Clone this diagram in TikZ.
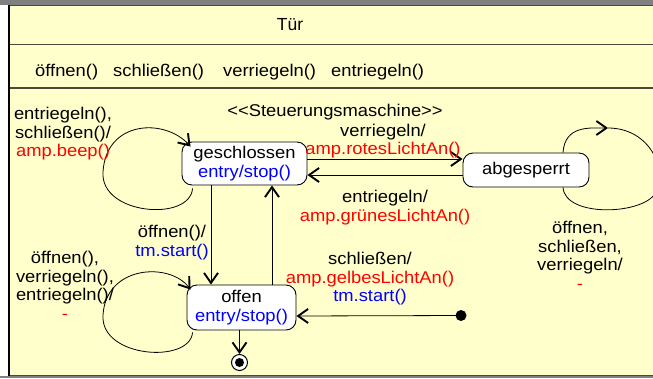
\documentclass[tikz,border=0pt]{standalone}
\usepackage{fontspec}
\setmainfont[FakeStretch=1.08]{Liberation Sans}
\newfontfamily\titlefont{Liberation Sans}
\usetikzlibrary{arrows.meta}
\definecolor{classfill}{HTML}{FFFFCC}
\definecolor{frameline}{HTML}{4A4A3A}
\definecolor{band}{HTML}{808080}
\definecolor{actred}{HTML}{FF0000}
\definecolor{actblue}{HTML}{0000FF}

\begin{document}
\begin{tikzpicture}[x=1pt,y=-1pt,
  every node/.style={font=\fontsize{17}{18.5}\selectfont, inner sep=0pt},
  state/.style={draw=black, fill=white, rounded corners=10pt, line width=0.9pt, align=center},
  trans/.style={draw=black, line width=0.8pt,
    -{Straight Barb[length=10pt,width=14pt,line width=1.9pt]}},
  plain/.style={draw=black, line width=0.8pt},
  lbl/.style={align=center},
  sep/.style={draw=frameline, line width=1.6pt}
]
\clip (0,0) rectangle (653,378);
\useasboundingbox (0,0) rectangle (653,378);

% page background, grey bands and the class frame
\fill[white] (0,0) rectangle (653,378);
\fill[band] (0,0) rectangle (653,5);
\fill[band] (0,376) rectangle (653,378);
\fill[classfill] (9,5) rectangle (660,376);
\draw[sep] (9,5.5) -- (660,5.5);
\draw[sep] (9,44.5) -- (660,44.5);
\draw[sep] (9,88) -- (660,88);
\draw[sep] (9,375.5) -- (660,375.5);
\draw[draw=black, line width=1.4pt] (9,5) -- (9,376);

% class name and operations
\node[font=\titlefont\fontsize{17.5}{18.5}\selectfont] (tuer) at (290,25) {Tür};
\node[anchor=west] (op1) at (35,72) {öffnen()};
\node[anchor=west] (op2) at (113,72) {schließen()};
\node[anchor=west] (op3) at (223,72) {verriegeln()};
\node[anchor=west] (op4) at (331,72) {entriegeln()};

\node (stereo) at (335,112) {{<}{<}Steuerungsmaschine{>}{>}};

% states
\node[state, minimum width=125pt, minimum height=43pt] (geschlossen) at (244.5,163.5)
  {geschlossen\\\textcolor{actblue}{entry/stop()}};
\node[state, minimum width=126pt, minimum height=34pt] (abgesperrt) at (526,170) {abgesperrt};
\node[state, minimum width=109pt, minimum height=45pt] (offen) at (241.5,307.5)
  {offen\\\textcolor{actblue}{entry/stop()}};

% pseudo states
\node[circle, fill=black, minimum size=11pt] (init) at (461,315.5) {};
\node[circle, draw=black, fill=white, line width=1pt, minimum size=16pt] (final) at (239.5,362.5) {};
\node[circle, fill=black, minimum size=9pt] (finaldot) at (239.5,362.5) {};

% transitions between states
\draw[trans] ([yshift=4.5pt]geschlossen.east) -- ([yshift=11pt]abgesperrt.west);
\draw[trans] ([yshift=-5pt]abgesperrt.west) -- ([yshift=-11.5pt]geschlossen.east);
\draw[trans] ([xshift=-33.5pt]geschlossen.south) -- ([xshift=-30.5pt]offen.north);
\draw[trans] ([xshift=30.5pt]offen.north) -- ([xshift=27.5pt]geschlossen.south);
\draw[trans] (init.center) -- ([yshift=-8.5pt]offen.east);
\draw[trans] ([xshift=-2pt]offen.south) -- (final.north);

% self transitions
\draw[trans] ([xshift=11pt,yshift=-3pt]geschlossen.south west)
  .. controls (190,222) and (100,215) .. (103,172)
  .. controls (106,120) and (165,118) .. ([xshift=9pt,yshift=-5pt]geschlossen.north west);
\draw[trans] ([xshift=6pt,yshift=-2pt]offen.south west)
  .. controls (190,364) and (100,358) .. (103,315)
  .. controls (106,265) and (170,262) .. ([xshift=4pt,yshift=-5pt]offen.north west);
\coordinate (looptip) at (608,128);
\draw[trans] ([xshift=37pt]abgesperrt.north)
  .. controls (565,125) and (590,128) .. (looptip);
\draw[plain] (looptip) .. controls (650,128) and (668,170) .. (656,192)
  .. controls (645,215) and (565,218) .. ([xshift=37pt]abgesperrt.south);

% transition labels
\node[lbl] (l1) at (63,134) {entriegeln(),\\schließen()/\\\textcolor{actred}{amp.beep()}};
\node[lbl] (l2) at (383,141) {verriegeln/\\\textcolor{actred}{amp.rotesLichtAn()}};
\node[lbl] (l3) at (385,207.5) {entriegeln/\\\textcolor{actred}{amp.grünesLichtAn()}};
\node[lbl] (l4) at (172,242.5) {öffnen()/\\\textcolor{actblue}{tm.start()}};
\node[lbl] (l5) at (65,285.5) {öffnen(),\\verriegeln(),\\entriegeln()/\\\textcolor{actred}{-}};
\node[lbl] (l6) at (370,279) {schließen/\\\textcolor{actred}{amp.gelbesLichtAn()}\\\textcolor{actblue}{tm.start()}};
\node[lbl] (l7) at (580,255.5) {öffnen,\\schließen,\\verriegeln/\\\textcolor{actred}{-}};
\end{tikzpicture}
\end{document}
